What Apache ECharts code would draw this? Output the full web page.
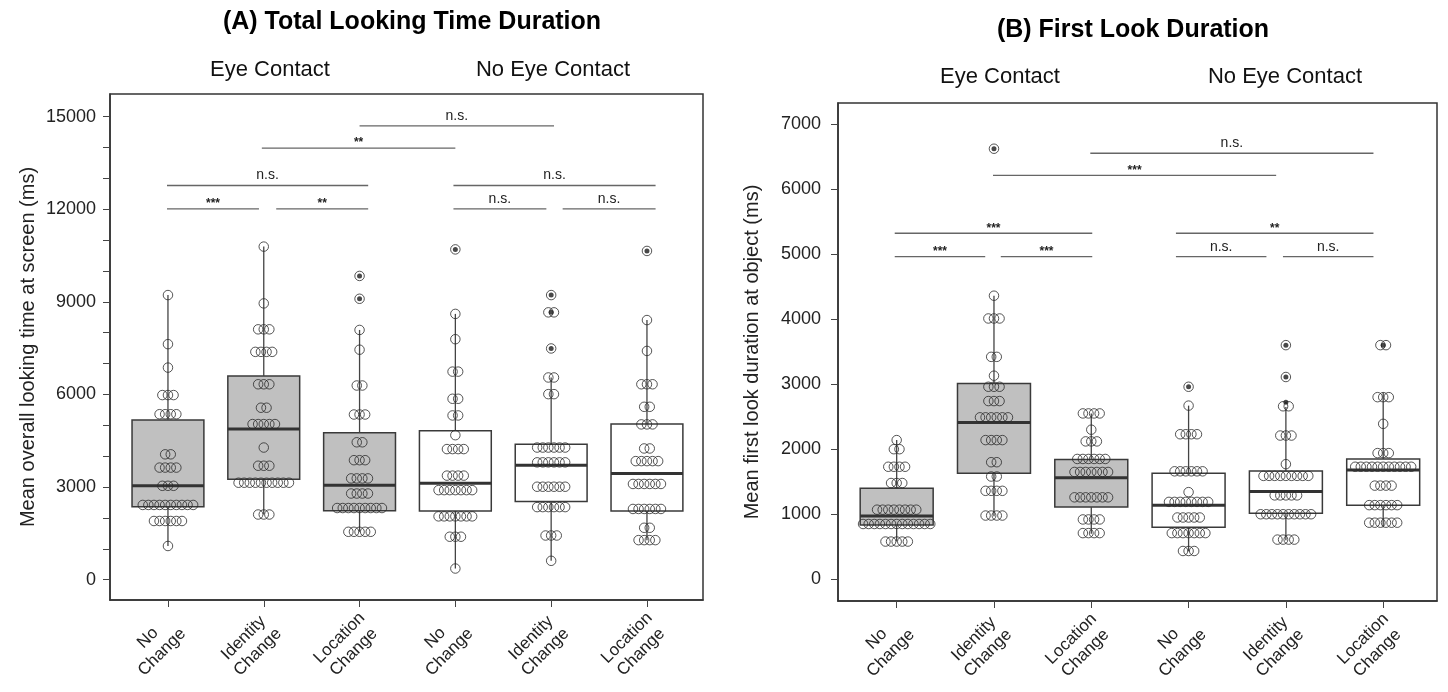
<!DOCTYPE html>
<html>
<head>
<meta charset="utf-8">
<script src="https://cdn.jsdelivr.net/npm/echarts@6/dist/echarts.min.js"></script>
<style>
  html, body { margin: 0; background: #fff; }
  #chart { width: 1448px; height: 692px; }
</style>
</head>
<body>
<div id="chart"></div>
<script>
// ─── data ────────────────────────────────────────────────────────────────────
const categories = ['No\nChange', 'Identity\nChange', 'Location\nChange', 'No\nChange', 'Identity\nChange', 'Location\nChange'];
const groupLabels = ['Eye Contact', 'No Eye Contact'];

// (A) total looking time — box stats per condition: [whisker low, Q1, median, Q3, whisker high]
const aBoxes = [
  [1090, 2360, 3040, 5170, 9220],
  [2110, 3250, 4880, 6600, 10790],
  [1550, 2230, 3060, 4760, 8090],
  [360, 2220, 3120, 4820, 8610],
  [610, 2530, 3710, 4390, 6550],
  [1280, 2220, 3440, 5040, 8410],
];
// participant means, as [value, how many circles sit on that row]
const aDots = [
  [[9220, 1], [7630, 1], [6870, 1], [5980, 3], [5360, 4], [4060, 2], [3630, 4], [3040, 3], [2420, 10], [1900, 6], [1090, 1]],
  [[10790, 1], [8950, 1], [8110, 3], [7380, 4], [6330, 3], [5570, 2], [5040, 5], [4280, 1], [3690, 3], [3140, 10], [2110, 3]],
  [[9840, 1], [9100, 1], [8090, 1], [7450, 1], [6290, 2], [5350, 3], [4450, 2], [3870, 3], [3280, 4], [2790, 4], [2320, 9], [1550, 5]],
  [[10700, 1], [8610, 1], [7790, 1], [6740, 2], [5860, 2], [5320, 2], [4680, 1], [4230, 4], [3370, 4], [2900, 7], [2050, 7], [1390, 3], [360, 1]],
  [[9220, 1], [8660, 2], [7490, 1], [6550, 2], [6010, 2], [4280, 6], [3800, 6], [3010, 6], [2350, 6], [1430, 3], [610, 1]],
  [[10650, 1], [8410, 1], [7410, 1], [6330, 3], [5600, 2], [5030, 3], [4250, 2], [3840, 5], [3100, 6], [2290, 6], [1680, 2], [1280, 4]],
];
const aOutliers = [[], [], [9840, 9100], [10700], [9220, 8660, 7490], [10650]];
// significance brackets: [from condition, to condition, height, label]
const aBrackets = [
  [3.0, 5.03, 14700, 'n.s.'],
  [1.98, 4.0, 13980, '**'],
  [0.99, 3.09, 12770, 'n.s.'],
  [0.99, 1.95, 12010, '***'],
  [2.13, 3.09, 12010, '**'],
  [3.98, 6.09, 12770, 'n.s.'],
  [3.98, 4.95, 12010, 'n.s.'],
  [5.12, 6.09, 12010, 'n.s.'],
];
const aTicks = [0, 1000, 2000, 3000, 4000, 5000, 6000, 7000, 8000, 9000, 10000, 11000, 12000, 13000, 14000, 15000];
const aTickLabels = [0, 3000, 6000, 9000, 12000, 15000];

// (B) first look duration
const bBoxes = [
  [580, 835, 973, 1400, 2140],
  [970, 1630, 2410, 3010, 4360],
  [700, 1110, 1560, 1840, 2550],
  [430, 800, 1140, 1630, 2670],
  [600, 1015, 1350, 1665, 2650],
  [800, 1140, 1680, 1850, 2870],
];
const bDots = [
  [[2140, 1], [2000, 2], [1730, 4], [1480, 3], [1070, 8], [850, 13], [580, 5]],
  [[6620, 1], [4360, 1], [4010, 3], [3420, 2], [3130, 1], [2960, 3], [2740, 3], [2490, 6], [2140, 4], [1800, 2], [1580, 2], [1360, 4], [980, 4]],
  [[2550, 4], [2300, 1], [2120, 3], [1850, 6], [1650, 7], [1260, 7], [920, 4], [710, 4]],
  [[2960, 1], [2670, 1], [2230, 4], [1660, 6], [1340, 1], [1190, 8], [950, 5], [710, 7], [435, 3]],
  [[3600, 1], [3110, 1], [2660, 2], [2210, 3], [1770, 1], [1590, 9], [1290, 5], [1000, 10], [610, 4]],
  [[3600, 2], [2800, 3], [2390, 1], [1940, 3], [1730, 11], [1440, 4], [1140, 6], [870, 6]],
];
const bOutliers = [[], [6620], [], [2960], [3600, 3110, 2720], [3600]];
const bBrackets = [
  [2.99, 5.9, 6550, 'n.s.'],
  [1.99, 4.9, 6210, '***'],
  [0.98, 3.01, 5320, '***'],
  [0.98, 1.91, 4960, '***'],
  [2.07, 3.01, 4960, '***'],
  [3.87, 5.9, 5320, '**'],
  [3.87, 4.8, 4960, 'n.s.'],
  [4.97, 5.9, 4960, 'n.s.'],
];
const bTicks = [0, 1000, 2000, 3000, 4000, 5000, 6000, 7000];

// ─── layout / style ──────────────────────────────────────────────────────────
const FONT = '"Liberation Sans", Arial, Helvetica, sans-serif';
const INK = '#222';
const BOX_HALF = 0.375;     // half box width, in condition units
const DOT_GAP = 5.6;        // px between neighbouring circles on a row

const panels = [
  {
    grid: { left: 110, top: 94, width: 593, height: 506 },
    x: [0.395, 6.585], y: [-660, 15735],
    ticks: aTicks, labels: aTickLabels, labelMargin: 14, nameGap: 72,
    yName: 'Mean overall looking time at screen (ms)',
    boxes: aBoxes, dots: aDots, outliers: aOutliers, brackets: aBrackets,
    title: { text: '(A) Total Looking Time Duration', x: 412, y: 22 },
    groups: [{ x: 270, y: 70 }, { x: 553, y: 70 }],
  },
  {
    grid: { left: 838, top: 103, width: 599, height: 498 },
    x: [0.397, 6.553], y: [-334, 7323],
    ticks: bTicks, labels: bTicks, labelMargin: 17, nameGap: 76,
    yName: 'Mean first look duration at object (ms)',
    boxes: bBoxes, dots: bDots, outliers: bOutliers, brackets: bBrackets,
    title: { text: '(B) First Look Duration', x: 1133, y: 30 },
    groups: [{ x: 1000, y: 77 }, { x: 1285, y: 77 }],
  },
];

// Spread equal values sideways, like a beeswarm row.
function swarm(rows, step) {
  const out = [];
  rows.forEach((cond, i) => {
    cond.forEach(([v, n]) => {
      for (let k = 0; k < n; k++) out.push([i + 1 + (k - (n - 1) / 2) * step, v]);
    });
  });
  return out;
}

function boxRender(params, api) {
  const c = api.value(0);
  const tl = api.coord([c - BOX_HALF, api.value(4)]);
  const br = api.coord([c + BOX_HALF, api.value(2)]);
  const mL = api.coord([c - BOX_HALF, api.value(3)]);
  const mR = api.coord([c + BOX_HALF, api.value(3)]);
  const lo = api.coord([c, api.value(1)]);
  const q1 = api.coord([c, api.value(2)]);
  const q3 = api.coord([c, api.value(4)]);
  const hi = api.coord([c, api.value(5)]);
  const whisker = { stroke: '#444', lineWidth: 1.3 };
  return {
    type: 'group',
    children: [
      { type: 'rect', shape: { x: tl[0], y: tl[1], width: br[0] - tl[0], height: br[1] - tl[1] },
        style: { fill: c <= 3 ? '#c0c0c0' : '#ffffff', stroke: '#3a3a3a', lineWidth: 1.5 } },
      { type: 'line', shape: { x1: hi[0], y1: hi[1], x2: q3[0], y2: q3[1] }, style: whisker },
      { type: 'line', shape: { x1: q1[0], y1: q1[1], x2: lo[0], y2: lo[1] }, style: whisker },
      { type: 'line', shape: { x1: mL[0], y1: mL[1], x2: mR[0], y2: mR[1] }, style: { stroke: '#333', lineWidth: 3 } },
    ],
  };
}

function bracketRender(list) {
  return (params, api) => {
    const b = list[params.dataIndex];
    const p1 = api.coord([b[0], b[2]]);
    const p2 = api.coord([b[1], b[2]]);
    const star = b[3].indexOf('*') >= 0;
    return {
      type: 'group',
      children: [
        { type: 'line', shape: { x1: p1[0], y1: p1[1], x2: p2[0], y2: p2[1] }, style: { stroke: '#666', lineWidth: 1.3 } },
        { type: 'text', x: (p1[0] + p2[0]) / 2, y: p1[1] - (star ? 5 : 3),
          style: { text: b[3], fill: INK, fontFamily: FONT, fontSize: star ? 12 : 14,
                   fontWeight: star ? 'bold' : 'normal', align: 'center', verticalAlign: star ? 'middle' : 'bottom' } },
      ],
    };
  };
}

function xLabelRender(yMin) {
  return (params, api) => {
    const c = api.value(0);
    const p = api.coord([c, yMin]);
    return {
      type: 'text', x: p[0] - 13, y: p[1] + 45, rotation: Math.PI / 4,
      style: { text: categories[c - 1], fill: INK, fontFamily: FONT, fontSize: 17, lineHeight: 20,
               align: 'center', verticalAlign: 'middle' },
    };
  };
}

const option = {
  animation: false,
  grid: [], xAxis: [], yAxis: [], series: [], graphic: [],
};

panels.forEach((p, gi) => {
  option.grid.push({ ...p.grid, show: true, borderColor: '#333', borderWidth: 1.5, backgroundColor: 'transparent' });
  option.xAxis.push({
    gridIndex: gi, type: 'value', min: p.x[0], max: p.x[1],
    splitLine: { show: false },
    axisLine: { show: true, onZero: false, lineStyle: { color: '#333', width: 1.5 } },
    axisTick: { show: true, length: 7, customValues: [1, 2, 3, 4, 5, 6], lineStyle: { color: '#444' } },
    axisLabel: { show: false },
  });
  option.yAxis.push({
    gridIndex: gi, type: 'value', min: p.y[0], max: p.y[1],
    splitLine: { show: false },
    axisLine: { show: true, onZero: false, lineStyle: { color: '#333', width: 1.5 } },
    axisTick: { show: true, length: 7, customValues: p.ticks, lineStyle: { color: '#444' } },
    axisLabel: { customValues: p.labels, formatter: (v) => String(v), fontSize: 18, fontFamily: FONT, color: INK, margin: p.labelMargin },
    name: p.yName, nameLocation: 'middle', nameGap: p.nameGap, nameRotate: 90,
    nameTextStyle: { fontSize: 20, fontFamily: FONT, color: INK },
  });

  const step = DOT_GAP * (p.x[1] - p.x[0]) / p.grid.width;
  option.series.push(
    { type: 'custom', xAxisIndex: gi, yAxisIndex: gi, renderItem: boxRender, clip: false, z: 1,
      data: p.boxes.map((b, i) => [i + 1, ...b]) },
    { type: 'scatter', xAxisIndex: gi, yAxisIndex: gi, symbol: 'circle', symbolSize: 9.5, z: 3,
      itemStyle: { color: 'rgba(0,0,0,0)', borderColor: '#2a2a2a', borderWidth: 1 },
      data: swarm(p.dots, step) },
    { type: 'scatter', xAxisIndex: gi, yAxisIndex: gi, symbol: 'circle', symbolSize: 5, z: 4,
      itemStyle: { color: '#1a1a1a' },
      data: p.outliers.flatMap((vals, i) => vals.map((v) => [i + 1, v])) },
    { type: 'custom', xAxisIndex: gi, yAxisIndex: gi, renderItem: bracketRender(p.brackets), clip: false, z: 5,
      data: p.brackets.map((b) => [b[0], b[2]]) },
    { type: 'custom', xAxisIndex: gi, yAxisIndex: gi, renderItem: xLabelRender(p.y[0]), clip: false, z: 5,
      data: [[1], [2], [3], [4], [5], [6]] },
  );

  option.graphic.push({
    type: 'text', x: p.title.x, y: p.title.y,
    style: { text: p.title.text, fill: '#000', fontFamily: FONT, fontSize: 25, fontWeight: 'bold', align: 'center', verticalAlign: 'middle' },
  });
  p.groups.forEach((g, k) => option.graphic.push({
    type: 'text', x: g.x, y: g.y,
    style: { text: groupLabels[k], fill: '#111', fontFamily: FONT, fontSize: 22, align: 'center', verticalAlign: 'middle' },
  }));
});

const chart = echarts.init(document.getElementById('chart'), null, { renderer: 'canvas' });
chart.setOption(option);
</script>
</body>
</html>
